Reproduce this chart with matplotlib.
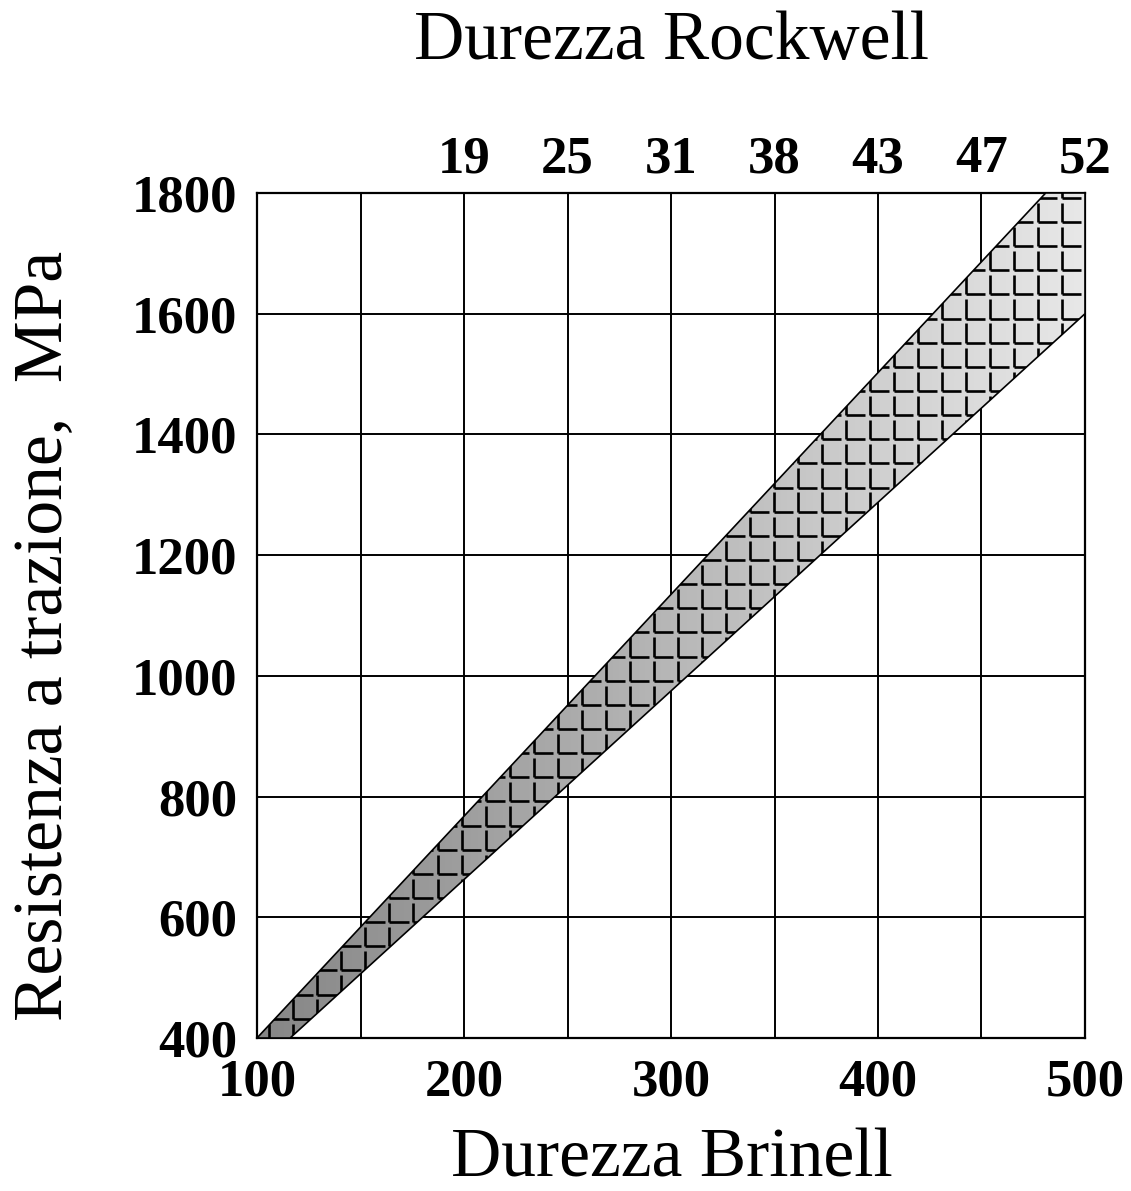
import numpy as np
import matplotlib.pyplot as plt
from matplotlib.patches import Polygon
from matplotlib.collections import LineCollection
from matplotlib.colors import LinearSegmentedColormap

plt.rcParams['font.family'] = ['Liberation Serif', 'DejaVu Serif']

# Brinell / tensile strength axes
brinell_ticks = [100, 200, 300, 400, 500]
brinell_grid = [150, 250, 350, 450]
strength_ticks = [400, 600, 800, 1000, 1200, 1400, 1600, 1800]

# Rockwell scale shown along the top
rockwell_at = [200, 250, 300, 350, 400, 450, 500]
rockwell_labels = ["19", "25", "31", "38", "43", "47", "52"]

# Band limits (Brinell hardness, tensile strength MPa)
upper_hb = [100, 481]
upper_ts = [400, 1800]
lower_hb = [116, 500]
lower_ts = [400, 1600]

fig = plt.figure(figsize=(11.31, 11.91), dpi=100)
ax = fig.add_axes([257 / 1131, 1 - 1038 / 1191, 828 / 1131, 845 / 1191])
ax.set_xlim(100, 500)
ax.set_ylim(400, 1800)

ax.set_xticks(brinell_ticks)
ax.set_xticks(brinell_grid, minor=True)
ax.set_yticks(strength_ticks)
ax.grid(True, which="both", color="black", linewidth=1.4, zorder=1)
ax.set_axisbelow(True)
ax.tick_params(which="both", length=0)
ax.tick_params(axis="x", pad=15, labelsize=38)
ax.tick_params(axis="y", pad=14, labelsize=38)
for lab in ax.get_xticklabels() + ax.get_yticklabels():
    lab.set_fontweight("bold")
for sp in ax.spines.values():
    sp.set_linewidth(1.6)

top = ax.twiny()
top.set_xlim(ax.get_xlim())
top.set_xticks(rockwell_at)
top.set_xticklabels(rockwell_labels, fontweight="bold")
top.tick_params(length=0, pad=7, labelsize=38)
for sp in top.spines.values():
    sp.set_visible(False)

# band polygon
ymax = ax.get_ylim()[1]
xmax = ax.get_xlim()[1]
verts = [(upper_hb[0], upper_ts[0]), (upper_hb[1], upper_ts[1]),
         (xmax, ymax), (lower_hb[1], lower_ts[1]), (lower_hb[0], lower_ts[0])]
band = Polygon(verts, closed=True, facecolor="none", edgecolor="black",
               linewidth=1.2, zorder=5, clip_on=False)
ax.add_patch(band)

# grey gradient fill, darker toward low hardness
cmap = LinearSegmentedColormap.from_list("band", ["#868686", "#e8e8e8"])
grad = np.linspace(0, 1, 256).reshape(1, -1)
img = ax.imshow(grad, cmap=cmap, extent=[100, 500, 400, 1800], aspect="auto",
                origin="lower", zorder=3, interpolation="bilinear")
img.set_clip_path(band)

# "L" pattern inside the band
dx, dy = 11.6, 40.0
arm_x, arm_y = 0.8 * dx, 0.8 * dy
segs = []
for x0 in np.arange(100 + 6.0 - dx, 500 + dx, dx):
    for y0 in np.arange(1752 - 40 * dy, 1800 + dy, dy):
        segs.append([(x0, y0), (x0, y0 + arm_y)])
        segs.append([(x0, y0), (x0 + arm_x, y0)])
lc = LineCollection(segs, colors="black", linewidths=1.9, zorder=4)
ax.add_collection(lc)
lc.set_clip_path(band)

ax.set_xlim(100, 500)
ax.set_ylim(400, 1800)

fig.text(671 / 1131, 1 - 42 / 1191, "Durezza Rockwell", ha="center", va="center",
         fontsize=50)
fig.text(672 / 1131, 1 - 1160 / 1191, "Durezza Brinell", ha="center", va="center",
         fontsize=50)
fig.text(45 / 1131, 1 - 636 / 1191, "Resistenza a trazione,  MPa", ha="center",
         va="center", rotation=90, fontsize=50)

fig.savefig("out.png", dpi=100)
